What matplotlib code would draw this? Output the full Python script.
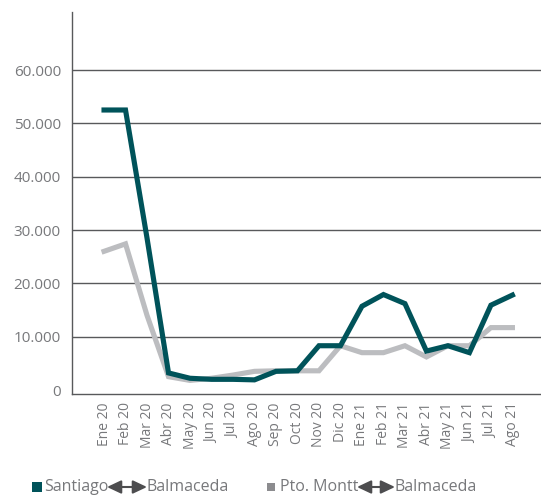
import matplotlib
matplotlib.use("Agg")
import matplotlib.pyplot as plt
from matplotlib.patches import Rectangle

months = ["Ene 20", "Feb 20", "Mar 20", "Abr 20", "May 20", "Jun 20", "Jul 20", "Ago 20",
          "Sep 20", "Oct 20", "Nov 20", "Dic 20", "Ene 21", "Feb 21", "Mar 21", "Abr 21",
          "May 21", "Jun 21", "Jul 21", "Ago 21"]
santiago = [52500, 52500, 28500, 3200, 2200, 2000, 2000, 1900, 3500, 3600, 8300, 8300,
            15700, 17900, 16200, 7300, 8300, 7000, 15900, 17800]
pto_montt = [26000, 27400, 14000, 2500, 1800, 2200, 2800, 3500, 3600, 3600, 3600, 8300,
             7000, 7000, 8300, 6200, 8300, 8300, 11700, 11700]
yticks = [0, 10000, 20000, 30000, 40000, 50000, 60000]
ylabels = ["0", "10.000", "20.000", "30.000", "40.000", "50.000", "60.000"]
origins = ["Santiago", "Pto. Montt "]
destination = "Balmaceda"

teal = "#00535a"
grey = "#bcbdc0"
txt = "#77787b"
gridc = "#58595b"
arrowc = "#4d4d4f"

plt.rcParams['font.family'] = ['Open Sans', 'DejaVu Sans']

W, H = 541, 499
fig = plt.figure(figsize=(W/100, H/100), dpi=100)
ax = fig.add_axes([72/W, 1-394/H, 1-72/W, (394-12)/H])

x = list(range(len(months)))
ax.plot(x, pto_montt, color=grey, lw=3.7, solid_joinstyle='miter', zorder=3)
ax.plot(x, santiago, color=teal, lw=3.7, solid_joinstyle='miter', zorder=4)

ax.set_xlim(-1.49, 20.33)
ax.set_ylim(-750, 70875)
ax.set_yticks(yticks)
ax.set_yticklabels(ylabels, fontsize=11, color=txt)
ax.set_xticks(x)
ax.set_xticklabels(months, rotation=90, fontsize=10, color=txt)
ax.tick_params(axis='both', length=0)
ax.tick_params(axis='y', pad=8)
ax.tick_params(axis='x', pad=6)

ax.grid(axis='y', color=gridc, lw=1.0)
ax.get_ygridlines()[0].set_visible(False)
ax.set_axisbelow(True)

for s in ['top', 'right']:
    ax.spines[s].set_visible(False)
for s in ['left', 'bottom']:
    ax.spines[s].set_linestyle((0, (1, 1)))
    ax.spines[s].set_color(gridc)
    ax.spines[s].set_linewidth(1.0)

# legend (manual)
def fx(px):
    return px / W
def fy(py):
    return 1 - py / H

yc = 487
legend_items = [
    dict(sq=(32, 482, 10, 10), col=teal, name=origins[0], tx=44, a0=107, a1=147, bx=147),
    dict(sq=(267, 483, 8, 8), col="#8c8c8f", name=origins[1], tx=280, a0=357, a1=395, bx=395),
]
for it in legend_items:
    sx, sy, sw, sh = it['sq']
    fig.patches.append(Rectangle((fx(sx), fy(sy + sh)), sw / W, sh / H,
                                 transform=fig.transFigure, color=it['col'], lw=0))
    fig.text(fx(it['tx']), fy(yc), it['name'], fontsize=11.5, color=txt,
             ha='left', va='center')
    ax.annotate("", xy=(fx(it['a1']), fy(yc)), xytext=(fx(it['a0']), fy(yc)),
                xycoords='figure fraction', textcoords='figure fraction',
                arrowprops=dict(arrowstyle="<|-|>,head_length=0.85,head_width=0.4",
                                mutation_scale=10, color=arrowc, lw=1.5,
                                shrinkA=0, shrinkB=0),
                annotation_clip=False)
    fig.text(fx(it['bx']), fy(yc), destination, fontsize=11.5, color=txt,
             ha='left', va='center')

fig.savefig("out.png", dpi=100)
